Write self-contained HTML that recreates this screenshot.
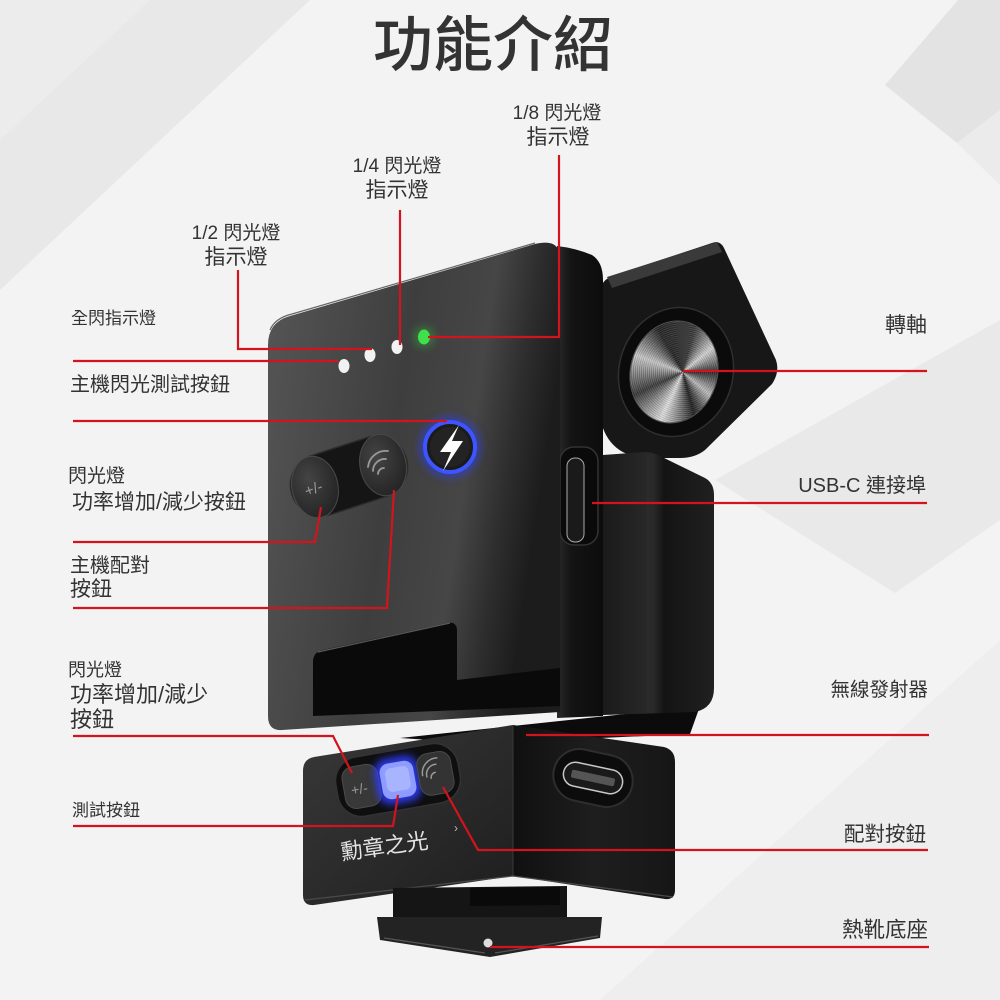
<!DOCTYPE html>
<html><head><meta charset="utf-8">
<style>
html,body{margin:0;padding:0;background:#f2f2f2;}
#c{position:relative;width:1000px;height:1000px;overflow:hidden;}
svg{position:absolute;left:0;top:0;}
.knob{position:absolute;left:631px;top:321px;width:86px;height:102px;border-radius:50%;transform:rotate(15deg);
background:
repeating-radial-gradient(circle at 60% 48%, rgba(255,255,255,.10) 0 1px, rgba(0,0,0,.12) 1px 2px),
conic-gradient(from 0deg at 60% 48%, #3a3a3a, #d6d6d6 35deg, #2c2c2c 75deg, #bdbdbd 115deg, #1f1f1f 150deg, #e0e0e0 190deg, #3a3a3a 230deg, #c8c8c8 275deg, #262626 315deg, #3a3a3a 360deg);
box-shadow:0 0 0 1px #555;}
text{font-family:"Liberation Sans","Noto Sans CJK TC",sans-serif;fill:#333;}
</style></head><body>
<div id="c">
<svg width="1000" height="1000" viewBox="0 0 1000 1000">
<defs>
<linearGradient id="face" x1="0" y1="0" x2="1" y2="0.25">
<stop offset="0" stop-color="#565656"/><stop offset="0.5" stop-color="#3e3e3e"/><stop offset="0.75" stop-color="#464646"/><stop offset="0.88" stop-color="#2e2e2e"/><stop offset="1" stop-color="#1c1c1c"/>
</linearGradient>
<linearGradient id="side" x1="0" y1="0" x2="1" y2="0">
<stop offset="0" stop-color="#2a2a2a"/><stop offset="0.3" stop-color="#141414"/><stop offset="1" stop-color="#0c0c0c"/>
</linearGradient>
<linearGradient id="blk" x1="0" y1="0" x2="1" y2="0">
<stop offset="0" stop-color="#1a1a1a"/><stop offset="0.45" stop-color="#2a2a2a"/><stop offset="0.55" stop-color="#141414"/><stop offset="1" stop-color="#202020"/>
</linearGradient>
<linearGradient id="bfront" x1="0" y1="0" x2="1" y2="1">
<stop offset="0" stop-color="#383838"/><stop offset="1" stop-color="#1e1e1e"/>
</linearGradient>
<linearGradient id="bright" x1="0" y1="0" x2="1" y2="0">
<stop offset="0" stop-color="#101010"/><stop offset="0.5" stop-color="#1e1e1e"/><stop offset="1" stop-color="#161616"/>
</linearGradient>
<radialGradient id="btn" cx="0.4" cy="0.35" r="0.7">
<stop offset="0" stop-color="#444"/><stop offset="1" stop-color="#232323"/>
</radialGradient>
<filter id="blur" x="-50%" y="-50%" width="200%" height="200%"><feGaussianBlur stdDeviation="4"/></filter>
</defs>
<!-- background -->
<rect width="1000" height="1000" fill="#f3f3f3"/>
<polygon points="0,0 310,0 0,290" fill="#e8e8e8"/>
<polygon points="0,0 150,0 0,140" fill="#ececec"/>
<polygon points="885,85 958,0 1000,0 1000,110 957,143" fill="#e3e3e3"/>
<polygon points="957,143 1000,110 1000,185" fill="#ebebeb"/>
<polygon points="715,480 1000,320 1000,520 895,593" fill="#e9e9e9"/>
<polygon points="600,1000 1000,640 1000,1000" fill="#eeeeee"/>

<!-- neck between units -->
<polygon points="400,738 700,706 690,734 600,738 513,726 430,740" fill="#0b0b0b"/>

<!-- rotating arm -->
<path d="M598,300 Q598,282 612,276 L712,243 Q720,240 724,248 L776,360 Q780,372 772,384 L705,450 Q695,458 680,458 L650,458 Q600,458 598,400 Z" fill="#171717"/>
<polygon points="607,277 717,242 722,252 612,288" fill="#3a3a3a"/>
<ellipse cx="676" cy="372" rx="57" ry="65" transform="rotate(15 676 372)" fill="#0b0b0b" stroke="#2f2f2f" stroke-width="1.5"/>

<!-- lower right block -->
<path d="M603,455 L645,452 Q652,452 660,456 L705,478 Q714,483 714,495 L714,688 Q714,708 695,712 L603,715 Z" fill="url(#blk)"/>
<line x1="648" y1="455" x2="648" y2="712" stroke="#2f2f2f" stroke-width="1"/>

<!-- side panel -->
<path d="M557,246 Q575,248 592,255 Q603,262 603,280 L603,716 L557,718 Z" fill="url(#side)"/>
<rect x="560" y="447" width="38" height="98" rx="14" fill="#0a0a0a" stroke="#333" stroke-width="1.5"/>
<rect x="567" y="458" width="17" height="84" rx="8" fill="#1a1a1a" stroke="#aaa" stroke-width="1"/>

<!-- front face top unit -->
<path d="M268,345 Q268,322 290,316 L535,244 Q560,238 560,258 L560,712 L282,730 Q268,731 268,716 Z" fill="url(#face)"/>
<path d="M270,330 Q275,318 292,314 L535,243" stroke="#666" stroke-width="1.2" fill="none"/>
<!-- slot -->
<path d="M313,662 Q313,652 323,650 L447,623 Q457,621 457,631 L457,680 L560,668 L560,706 L313,716 Z" fill="#0a0a0a"/>
<line x1="318" y1="652" x2="450" y2="623" stroke="#5a5a5a" stroke-width="1.2"/>

<!-- LEDs -->
<ellipse cx="344" cy="366" rx="5.5" ry="7" fill="#f2f2f2"/>
<ellipse cx="370" cy="355" rx="5.5" ry="7" fill="#f2f2f2"/>
<ellipse cx="397" cy="347" rx="5.5" ry="7" fill="#f2f2f2"/>
<circle cx="424" cy="337" r="11" fill="#30c040" opacity=".35" filter="url(#blur)"/>
<ellipse cx="424" cy="337" rx="6" ry="7.5" fill="#3fe04c"/>

<!-- lightning button -->
<circle cx="450" cy="447" r="31" fill="#2b3cff" opacity=".5" filter="url(#blur)"/>
<circle cx="450" cy="447" r="25" fill="#1b1b1b" stroke="#3d55ff" stroke-width="4"/>
<circle cx="450" cy="447" r="20" fill="#232323"/>
<path d="M459,425 L440,452 L451,452 L443,471 L463,441 L452,441 Z" fill="#fff"/>

<!-- pill buttons -->
<g transform="translate(349,476) rotate(-18)">
<rect x="-60" y="-31" width="120" height="62" rx="31" fill="#151515" stroke="#2c2c2c" stroke-width="1.5"/>
</g>
<ellipse cx="315" cy="487" rx="23" ry="31" transform="rotate(-12 315 487)" fill="url(#btn)" stroke="#4a4a4a" stroke-width="1"/>
<ellipse cx="383" cy="465" rx="23" ry="31" transform="rotate(-12 383 465)" fill="url(#btn)" stroke="#4a4a4a" stroke-width="1"/>
<text x="305" y="494" font-size="15" transform="rotate(-20 313 490)" style="fill:#9a9a9a">+/-</text>
<g stroke="#9a9a9a" stroke-width="1.8" fill="none" stroke-linecap="round">
<path d="M378,474 A6,6 0 0 1 384,468"/>
<path d="M373,471 A12,12 0 0 1 386,459"/>
<path d="M368,467 A18,18 0 0 1 388,451"/>
</g>

<!-- bottom unit -->
<path d="M513,725 L664,747 Q675,750 675,762 L675,890 Q675,900 665,899 L513,876 Z" fill="url(#bright)"/>
<path d="M513,725 L314,757 Q303,759 303,771 L303,895 Q303,906 314,905 L513,876 Z" fill="url(#bfront)"/>
<line x1="513" y1="726" x2="513" y2="876" stroke="#3a3a3a" stroke-width="1"/>
<path d="M305,900 L513,876 L673,897" stroke="#4a4a4a" stroke-width="1.2" fill="none"/>
<!-- port right face -->
<g transform="translate(593,778) rotate(12)">
<rect x="-40" y="-26" width="80" height="52" rx="26" fill="#0c0c0c" stroke="#2e2e2e" stroke-width="2"/>
<rect x="-30" y="-12" width="60" height="24" rx="12" fill="#1a1a1a" stroke="#c8c8c8" stroke-width="1.5"/>
<rect x="-22" y="-4" width="44" height="8" rx="2" fill="#555"/>
</g>
<!-- button strip -->
<g transform="translate(398,780) rotate(-10)">
<rect x="-62" y="-30" width="124" height="60" rx="24" fill="#0f0f0f" stroke="#333" stroke-width="1.5"/>
<rect x="-55" y="-21" width="36" height="42" rx="11" fill="#383838" stroke="#4a4a4a"/>
<rect x="-22" y="-23" width="44" height="46" rx="13" fill="#2d3cff" opacity=".9" filter="url(#blur)"/>
<rect x="-17" y="-18" width="34" height="36" rx="9" fill="#8e9cff"/>
<rect x="-12" y="-13" width="24" height="24" rx="6" fill="#a9b4ff"/>
<rect x="21" y="-21" width="34" height="42" rx="11" fill="#333" stroke="#4a4a4a"/>
<text x="-48" y="7" font-size="14" style="fill:#999">+/-</text>
<g stroke="#999" stroke-width="1.5" fill="none" stroke-linecap="round">
<path d="M33,4 A5,5 0 0 1 38,-1"/>
<path d="M29,2 A10,10 0 0 1 40,-9"/>
<path d="M25,0 A15,15 0 0 1 42,-15"/>
</g>
</g>
<text x="0" y="0" font-size="22" transform="translate(342,860) rotate(-8)" style="fill:#e4e4e4">勳章之光</text>
<text x="454" y="832" font-size="12" style="fill:#bbb">›</text>

<!-- hot shoe -->
<polygon points="393,888 567,886 567,917 393,918" fill="#151515"/>
<polygon points="470,888 560,887 560,905 470,906" fill="#0a0a0a"/>
<polygon points="377,917 602,917 600,938 490,957 380,940" fill="#232323"/>
<line x1="384" y1="938" x2="485" y2="953" stroke="#555" stroke-width="1.2"/>
<line x1="495" y1="953" x2="598" y2="936" stroke="#555" stroke-width="1.2"/>
<circle cx="488" cy="943" r="4.5" fill="#ddd"/>
</svg>

<div class="knob"></div>

<svg width="1000" height="1000" viewBox="0 0 1000 1000">
<g stroke="#d3141c" stroke-width="2.2" fill="none">
<path d="M73,361 H338"/>
<path d="M238,270 V349 H372"/>
<path d="M400,210 V345"/>
<path d="M559,155 V337 H428"/>
<path d="M73,421 H447"/>
<path d="M73,542 H315 L321,507"/>
<path d="M73,608 H387 L394,490"/>
<path d="M73,736 H333 L352,773"/>
<path d="M73,826 H393 L398,795"/>
<path d="M683,371 H927"/>
<path d="M592,503 H927"/>
<path d="M526,735 H929"/>
<path d="M443,787 L478,850 H928"/>
<path d="M490,947 H929"/>
</g>

<text x="493" y="66" font-size="60" text-anchor="middle" font-weight="500">功能介紹</text>

<text x="557" y="119" font-size="19" text-anchor="middle">1/8 閃光燈</text>
<text x="558" y="144" font-size="21" text-anchor="middle">指示燈</text>
<text x="397" y="172" font-size="19" text-anchor="middle">1/4 閃光燈</text>
<text x="397" y="197" font-size="21" text-anchor="middle">指示燈</text>
<text x="236" y="239" font-size="19" text-anchor="middle">1/2 閃光燈</text>
<text x="236" y="264" font-size="21" text-anchor="middle">指示燈</text>

<text x="71" y="324" font-size="17">全閃指示燈</text>
<text x="70" y="391" font-size="20">主機閃光測試按鈕</text>
<text x="68" y="482" font-size="19">閃光燈</text>
<text x="72" y="509" font-size="21">功率增加/減少按鈕</text>
<text x="70" y="572" font-size="20">主機配對</text>
<text x="70" y="596" font-size="21">按鈕</text>
<text x="68" y="676" font-size="18">閃光燈</text>
<text x="70" y="702" font-size="22">功率增加/減少</text>
<text x="70" y="727" font-size="22">按鈕</text>
<text x="72" y="816" font-size="17">測試按鈕</text>

<text x="927" y="332" font-size="21" text-anchor="end">轉軸</text>
<text x="926" y="492" font-size="20" text-anchor="end">USB-C 連接埠</text>
<text x="928" y="696" font-size="19.5" text-anchor="end">無線發射器</text>
<text x="926" y="841" font-size="20.5" text-anchor="end">配對按鈕</text>
<text x="928" y="937" font-size="21.5" text-anchor="end">熱靴底座</text>
</svg>
</div>
</body></html>
